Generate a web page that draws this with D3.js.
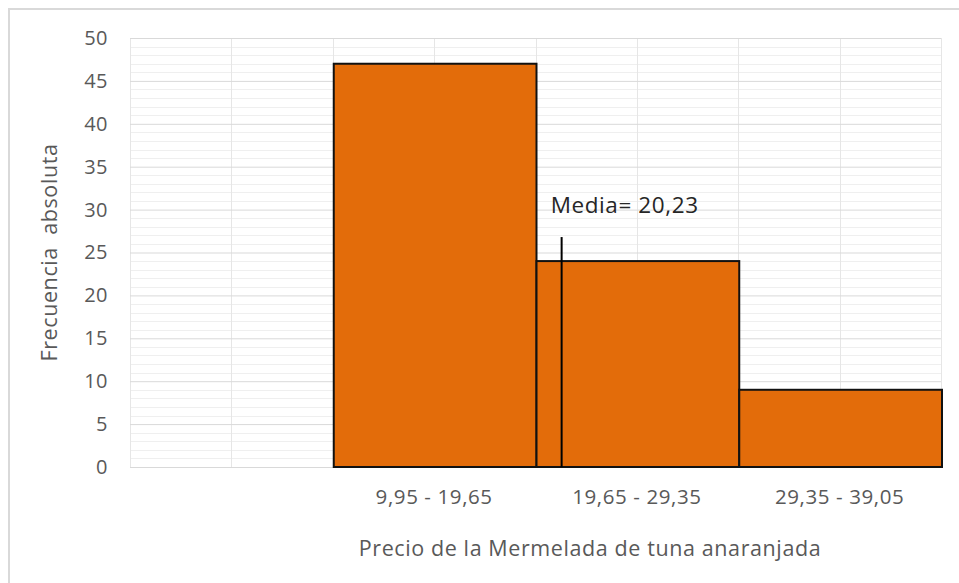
<!DOCTYPE html>
<meta charset="utf-8">
<style>
  body { margin: 0; background: #fff; }
  text { font-family: "Open Sans", "Liberation Sans", sans-serif; fill: #595959; }
</style>
<svg width="959" height="583"></svg>
<script src="https://cdn.jsdelivr.net/npm/d3@7/dist/d3.min.js"></script>
<script>

// data
var classes = ["", "9,95 - 19,65", "19,65 - 29,35", "29,35 - 39,05"],
    counts = [0, 47, 24, 9],
    classEdges = [0.25, 9.95, 19.65, 29.35, 39.05],
    yTicks = [0, 5, 10, 15, 20, 25, 30, 35, 40, 45, 50];

// where the marker sits on the price axis, and how tall it is (in counts)
var meanLabel = "Media= 20,23",
    meanAt = 20.9,
    meanTop = 26.8;

var svg = d3.select("svg"),
    margin = {top: 38, right: 18, bottom: 116, left: 130},
    width = 959 - margin.left - margin.right,
    height = 583 - margin.top - margin.bottom;

// outer chart frame
svg.append("path")
    .attr("d", "M9,583V9H959")
    .attr("fill", "none")
    .attr("stroke", "#d9d9d9")
    .attr("stroke-width", 2);

var g = svg.append("g").attr("transform", "translate(" + margin.left + "," + margin.top + ")");

var x = d3.scaleBand().domain(classes).range([0, width]).padding(0);
var xPrice = d3.scaleLinear().domain([classEdges[0], classEdges[classEdges.length - 1]]).range([0, width]);
var y = d3.scaleLinear().domain([0, 50]).range([height, 0]);

// minor horizontal grid
g.append("g").selectAll("line")
    .data(d3.range(0, 51, 1).filter(function(d) { return d % 5 !== 0; }))
  .enter().append("line")
    .attr("x1", 0).attr("x2", width)
    .attr("y1", function(d) { return Math.round(y(d)) + 0.5; })
    .attr("y2", function(d) { return Math.round(y(d)) + 0.5; })
    .attr("stroke", "#efefef");

// vertical grid at each class start and middle
var vx = [];
classes.forEach(function(c) { vx.push(x(c)); vx.push(x(c) + x.bandwidth() / 2); });
vx.push(width);
g.append("g").selectAll("line")
    .data(vx)
  .enter().append("line")
    .attr("x1", function(d) { return Math.round(d) + 0.5; })
    .attr("x2", function(d) { return Math.round(d) + 0.5; })
    .attr("y1", 0).attr("y2", height)
    .attr("stroke", "#e6e6e6");

// major horizontal grid + tick labels
var yAxis = g.append("g")
    .call(d3.axisLeft(y).tickValues(yTicks).tickSize(-width).tickPadding(22));
yAxis.select(".domain").remove();
yAxis.selectAll(".tick line").attr("stroke", "#d9d9d9");
yAxis.selectAll("text")
    .attr("font-size", 20)
    .style("font-family", "\"Open Sans\", sans-serif")
    .style("letter-spacing", "0.5px")
    .attr("fill", "#595959");

// bars
g.append("g").selectAll("rect")
    .data(classes.map(function(c, i) { return {c: c, v: counts[i]}; }).filter(function(d) { return d.v > 0; }))
  .enter().append("rect")
    .attr("x", function(d) { return x(d.c) + 1; })
    .attr("y", function(d) { return y(d.v); })
    .attr("width", x.bandwidth())
    .attr("height", function(d) { return height - y(d.v); })
    .attr("fill", "#e36c0a")
    .attr("stroke", "#111")
    .attr("stroke-width", 2);

// x category labels
var xAxis = g.append("g")
    .attr("transform", "translate(0," + height + ")")
    .call(d3.axisBottom(x).tickSize(0).tickPadding(22));
xAxis.select(".domain").remove();
xAxis.selectAll("text")
    .attr("font-size", 20.5)
    .style("font-family", "\"Open Sans\", sans-serif")
    .style("letter-spacing", "0.6px")
    .attr("fill", "#595959");

// mean marker
g.append("line")
    .attr("x1", xPrice(meanAt)).attr("x2", xPrice(meanAt))
    .attr("y1", y(meanTop)).attr("y2", height)
    .attr("stroke", "#000")
    .attr("stroke-width", 2);

g.append("text")
    .attr("x", xPrice(meanAt) - 11)
    .attr("y", y(meanTop) - 24)
    .attr("font-size", 22.5)
    .style("letter-spacing", "0.6px")
    .style("fill", "#262626")
    .text(meanLabel);

// axis titles
svg.append("text")
    .attr("transform", "translate(57," + (margin.top + height / 2) + ") rotate(-90)")
    .attr("text-anchor", "middle")
    .attr("font-size", 21.5)
    .style("letter-spacing", "0.6px")
    .style("white-space", "pre")
    .text("Frecuencia  absoluta");

svg.append("text")
    .attr("x", 590)
    .attr("y", 556)
    .attr("text-anchor", "middle")
    .attr("font-size", 21.5)
    .style("letter-spacing", "0.6px")
    .text("Precio de la Mermelada de tuna anaranjada");

</script>
